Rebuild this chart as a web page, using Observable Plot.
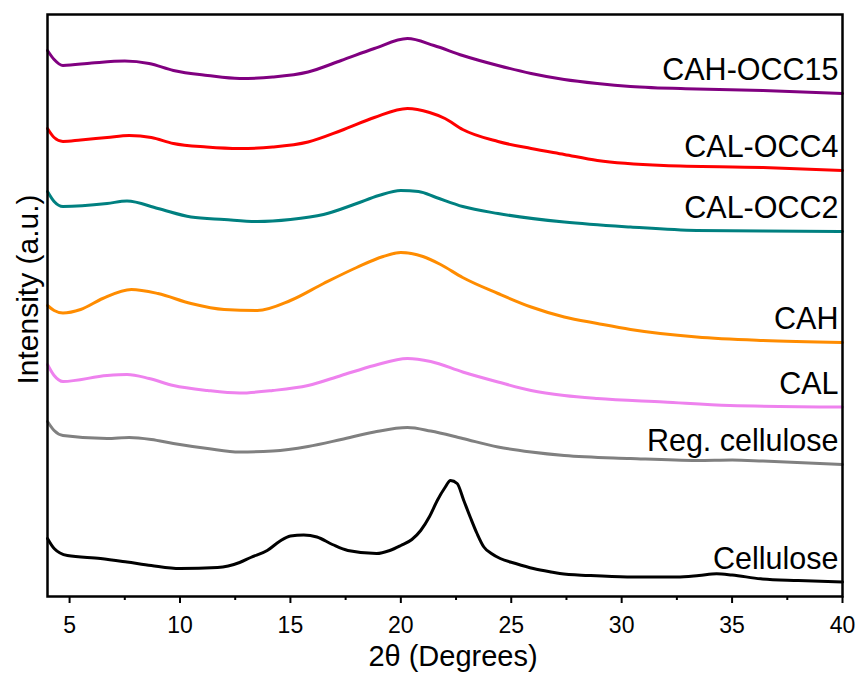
<!DOCTYPE html>
<html>
<head>
<meta charset="utf-8">
<script src="https://cdn.jsdelivr.net/npm/d3@7"></script>
<script src="https://cdn.jsdelivr.net/npm/@observablehq/plot@0.6"></script>
<style>
  body { margin: 0; background: #fff; }
  svg { display: block; }
</style>
</head>
<body>
<div id="chart"></div>
<script>
// ---- Data (2θ in degrees, intensity in arbitrary units, curves already offset) ----
const seriesNames = ["CAH-OCC15", "CAL-OCC4", "CAL-OCC2", "CAH", "CAL", "Reg. cellulose", "Cellulose"];
const seriesColors = ["#800080", "#ff0000", "#008080", "#ff8c00", "#ee82ee", "#808080", "#000000"];

const cahOcc15 = [[4.0,550],[4.3,541],[4.7,535],[6.0,537.5],[7.5,539.5],[8.6,537],[9.7,530],[11.25,525],[12.7,522],[14.2,523.5],[15.8,528.5],[17.3,540],[18.8,552],[20.3,562],[21.5,555],[22.8,545],[24.4,535],[25.9,527],[27.4,521],[28.9,517],[30.4,514],[33.4,511.5],[36.4,510],[40,507]];
const calOcc4 = [[4.0,472],[4.3,463],[4.7,459],[5.5,460.5],[6.7,463],[7.7,465],[8.7,463],[9.7,457],[11.2,453.5],[12.7,452],[14.2,453.5],[15.8,458.5],[17.3,470],[18.8,483],[20.3,492],[21.3,488],[22.0,482],[22.8,471],[24.4,459],[25.9,452],[27.4,446],[28.9,440],[31.9,435],[36.4,433],[40,430]];
const calOcc2 = [[4.0,409],[4.3,399],[4.7,394],[6.7,397],[7.6,399.5],[9.0,392],[10.5,383.5],[12.0,381],[13.5,379],[15.0,381],[16.5,386],[18.0,397],[19.0,405],[20.0,410],[20.8,409],[21.6,403],[22.8,394],[24.4,387],[27.4,378.5],[30.4,373.5],[33.4,370],[36.4,369.5],[40,369]];
const cah = [[4.0,295],[4.3,290],[4.7,287.5],[5.5,291],[6.5,302],[7.8,311],[9.0,307],[10.5,297],[12.0,291],[13.5,290],[15.0,300],[16.5,317],[18.0,333],[19.2,344],[20.0,348],[21.0,344],[21.8,336],[22.8,323],[24.4,307],[25.9,293.5],[27.4,283.5],[28.9,277],[30.4,271],[33.4,263.5],[36.4,260],[40,258]];
const cal = [[4.0,236],[4.3,225],[4.7,219],[6.7,225],[7.6,226],[8.6,222],[9.7,215],[11.25,210],[12.7,207.5],[14.2,210],[15.8,215],[17.3,225],[18.8,235],[20.3,242],[21.35,239],[22.8,228.5],[24.4,218.5],[25.9,210],[27.4,205],[28.9,202],[31.9,198.5],[34.9,195],[40,193.5]];
const regCellulose = [[4.0,179],[4.3,170],[4.7,165],[6.7,162],[7.7,163],[8.7,161],[9.7,157],[11.25,152],[12.7,148.5],[14.2,149.5],[15.8,154],[17.3,161],[18.8,168.5],[20.3,173],[21.35,169.5],[22.8,162],[24.4,153.5],[25.9,148.5],[27.4,145],[30.4,142],[33.4,140],[35,140.5],[36.4,139.5],[40,136]];
const cellulose = [[4.0,62],[4.3,52],[4.9,45],[6.4,42],[7.6,38.5],[8.7,35],[10.0,32],[11.7,33],[12.7,38],[13.2,43],[13.95,50],[14.5,59],[15.0,64.5],[15.6,65.5],[16.2,63.5],[16.9,56],[17.6,50],[18.9,47],[19.5,50],[20.0,55],[20.5,61],[20.9,70],[21.3,84],[21.65,100],[22.0,113],[22.25,120],[22.55,117],[22.85,100],[23.15,83],[23.45,67],[23.76,53.5],[24.1,47],[24.5,42],[25.2,37],[26.0,32],[26.8,28.5],[27.2,27],[28.5,25],[30.25,23.5],[32.5,23.5],[33.5,25],[34.3,26.7],[35.0,25.5],[36.3,21.7],[38,20],[40,18.5]];

const seriesValues = [cahOcc15, calOcc4, calOcc2, cah, cal, regCellulose, cellulose];

const xTicks = [5, 10, 15, 20, 25, 30, 35, 40];
const xMinorTicks = [7.5, 12.5, 17.5, 22.5, 27.5, 32.5, 37.5];
const xDomain = [4, 40];
const yDomain = [4, 586];
const xTitle = "2θ (Degrees)";
const yTitle = "Intensity (a.u.)";

// ---- Build table ----
const rows = seriesNames.flatMap((name, i) =>
  seriesValues[i].map(([x, y]) => ({ name, x, y }))
);

const chart = Plot.plot({
  width: 858,
  height: 675,
  marginLeft: 47,
  marginRight: 16,
  marginTop: 14,
  marginBottom: 79,
  style: { fontFamily: "'Liberation Sans', Arial, sans-serif", background: "#fff", color: "#000" },
  x: { domain: xDomain },
  y: { domain: yDomain, axis: null },
  color: { domain: seriesNames, range: seriesColors },
  marks: [
    Plot.line(rows, { x: "x", y: "y", z: "name", stroke: "name", strokeWidth: 3, curve: "monotone-x", strokeLinejoin: "round" }),
    Plot.text(rows, Plot.selectLast({ x: "x", y: "y", z: "name", text: "name", textAnchor: "end", dx: -4, dy: -23, fontSize: 30.5, fill: "#000" })),
    Plot.frame({ stroke: "#000", strokeWidth: 2.5 }),
    Plot.axisX(xTicks, { tickSize: 7, tickPadding: 13, fontSize: 23, strokeWidth: 2, label: null, stroke: "#000", fill: "#000" }),
    Plot.axisX(xMinorTicks, { tickSize: 4, tickFormat: () => "", strokeWidth: 2, label: null, stroke: "#000" }),
    Plot.text([xTitle], { frameAnchor: "bottom", textAnchor: "middle", dy: 69, dx: 8, fontSize: 29, text: d => d, fill: "#000" }),
    Plot.text([yTitle], { frameAnchor: "left", textAnchor: "middle", rotate: -90, dx: -19, dy: -16, fontSize: 30, text: d => d, fill: "#000" })
  ]
});

document.getElementById("chart").appendChild(chart);
</script>
</body>
</html>
